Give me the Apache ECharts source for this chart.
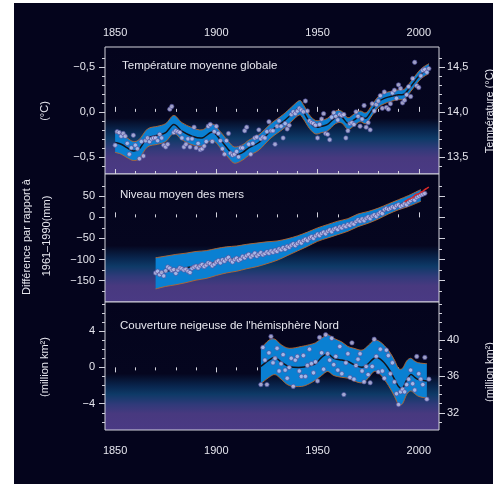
<!DOCTYPE html>
<html><head><meta charset="utf-8">
<script src="https://cdn.jsdelivr.net/npm/echarts@6/dist/echarts.min.js"></script>
<style>html,body{margin:0;padding:0;background:#fff}#c{width:493px;height:484px}</style>
</head><body><div id="c"></div>
<script>
// ---------------- DATA ----------------
const xMajorTicks = [1850, 1900, 1950, 2000];
const xMinorTicks = [1860, 1870, 1880, 1890, 1910, 1920, 1930, 1940, 1960, 1970, 1980, 1990];

// Panel 1: global mean temperature anomaly (°C), annual 1850-2005
const tempStartYear = 1850;
const tempAnnual = [
 -0.37,-0.22,-0.23,-0.27,-0.24,-0.27,-0.35,-0.47,-0.40,-0.26,
 -0.37,-0.41,-0.52,-0.33,-0.49,-0.32,-0.29,-0.33,-0.30,-0.29,
 -0.29,-0.32,-0.25,-0.29,-0.37,-0.39,-0.36,0.03,0.06,-0.23,
 -0.21,-0.22,-0.23,-0.29,-0.39,-0.36,-0.30,-0.39,-0.30,-0.17,
 -0.40,-0.35,-0.42,-0.41,-0.38,-0.33,-0.16,-0.14,-0.33,-0.22,
 -0.16,-0.24,-0.32,-0.41,-0.47,-0.32,-0.24,-0.46,-0.48,-0.47,
 -0.44,-0.50,-0.40,-0.40,-0.21,-0.17,-0.36,-0.47,-0.35,-0.29,
 -0.28,-0.20,-0.30,-0.28,-0.29,-0.22,-0.11,-0.21,-0.21,-0.36,
 -0.16,-0.10,-0.16,-0.29,-0.13,-0.19,-0.15,-0.03,0.00,-0.02,
 0.01,0.04,0.02,0.00,0.12,0.01,-0.10,-0.12,-0.13,-0.15,
 -0.29,-0.14,-0.08,-0.02,-0.24,-0.25,-0.31,-0.06,-0.01,-0.05,
 -0.09,-0.03,-0.04,-0.03,-0.29,-0.21,-0.13,-0.12,-0.14,0.00,
 -0.05,-0.16,-0.08,0.07,-0.17,-0.12,-0.20,0.09,0.01,0.08,
 0.12,0.18,0.04,0.22,0.05,0.03,0.09,0.21,0.24,0.15,
 0.30,0.26,0.10,0.13,0.19,0.28,0.17,0.37,0.55,0.29,
 0.27,0.40,0.46,0.47,0.44,0.48
];
const tempSmoothYears = [1850,1853,1856,1859,1862,1866,1871,1875,1879,1883,1888,1893,1898,1902,1906,1909,1913,1916,1921,1927,1933,1937,1941,1943,1946,1949,1952,1955,1959,1962,1965,1968,1971,1974,1977,1980,1983,1986,1990,1993,1997,2001,2005];
const tempSmooth = [-0.34,-0.36,-0.40,-0.435,-0.41,-0.29,-0.26,-0.23,-0.14,-0.215,-0.27,-0.29,-0.225,-0.31,-0.42,-0.48,-0.45,-0.40,-0.34,-0.21,-0.11,-0.03,0.045,0.0,-0.11,-0.17,-0.16,-0.14,-0.06,-0.06,-0.13,-0.09,-0.05,-0.07,0.02,0.11,0.15,0.17,0.19,0.20,0.31,0.42,0.48];
const tempHalfWidth = [0.11,0.11,0.11,0.105,0.105,0.10,0.10,0.10,0.10,0.095,0.095,0.09,0.09,0.09,0.09,0.09,0.085,0.085,0.085,0.08,0.08,0.08,0.08,0.08,0.075,0.075,0.07,0.07,0.07,0.065,0.065,0.065,0.06,0.06,0.06,0.06,0.06,0.055,0.055,0.055,0.055,0.055,0.055];
const tempTickValues = [0.5, 0, -0.5];
const tempTickLabels = ['\u22120,5', '0,0', '\u22120,5'];
const tempAbsTickValues = [14.5, 14.0, 13.5];
const tempAbsTickLabels = ['14,5', '14,0', '13,5'];

// Panel 2: sea level (mm), annual 1870-2003
const seaStartYear = 1870;
const seaAnnual = [
 -132,-128,-136,-131,-139,-127,-118,-121,-126,-124,
 -133,-125,-120,-122,-125,-123,-128,-131,-121,-118,
 -116,-120,-115,-112,-117,-113,-108,-110,-115,-111,
 -106,-103,-108,-101,-104,-99,-95,-102,-106,-100,
 -97,-102,-99,-93,-96,-91,-88,-94,-90,-85,
 -92,-88,-84,-89,-86,-82,-85,-80,-83,-78,
 -81,-75,-77,-72,-76,-69,-71,-66,-63,-67,
 -62,-58,-61,-55,-52,-55,-49,-46,-50,-44,
 -40,-43,-38,-35,-39,-33,-30,-34,-28,-26,
 -29,-23,-25,-20,-22,-17,-19,-14,-16,-10,
 -6,-9,-4,-8,-2,1,-3,3,6,2,
 8,12,9,18,21,19,22,25,23,28,
 30,26,29,33,30,36,40,44,41,47,
 50,53,55,57
];
const seaSmoothYears = [1870,1875,1880,1885,1890,1895,1900,1905,1910,1915,1920,1925,1930,1935,1940,1945,1950,1955,1960,1965,1970,1975,1980,1985,1990,1995,2001];
const seaSmooth = [-133,-128,-124,-120,-115,-112,-106,-101,-98,-93,-89,-84,-79,-71,-62,-52,-41,-33,-25,-18,-7,0,9,20,30,39,52];
const seaHalfWidth = [37,36,36,35,34,33,32,31,30,29,28,26,23,20,18,17,16,16,16,15,15,14,13,12,12,13,14];
const satYears = [1993,1994,1995,1996,1997,1998,1999,2000,2001,2002,2003,2004,2005];
const satSea = [37,40,43,45,47,52,55,56,60,62,66,69,72];
const seaTickValues = [50, 0, -50, -100, -150];
const seaTickLabels = ['50', '0', '\u221250', '\u2212100', '\u2212150'];

// Panel 3: NH snow cover anomaly (million km²), annual 1922-2005
const snowStartYear = 1922;
const snowAnnual = [
 -1.9,2.2,0.8,-1.9,1.6,3.4,0.5,1.0,2.1,-0.4,
 0.4,1.4,-0.3,-1.2,0.0,1.0,-2.1,0.8,1.2,-0.4,
 -1.0,1.3,-1.0,0.2,2.0,0.4,-0.6,0.6,-1.5,3.3,
 1.6,-0.2,3.6,1.5,0.8,3.2,0.3,1.2,-0.3,2.3,
 -0.7,-3.0,0.5,1.5,-1.1,2.7,-1.3,0.2,0.9,1.5,
 -0.4,-1.6,0.1,-0.8,-1.7,0.1,3.1,1.2,-0.5,2.0,
 -0.4,-1.2,1.9,1.3,-0.7,0.5,-1.6,-2.9,-4.1,-2.7,
 -2.4,-2.7,-1.9,-1.3,-0.3,-1.8,-2.5,1.2,-0.7,-1.3,
 -1.9,1.1,-3.5,-1.3
];
const snowSmoothYears = [1922,1926,1929,1932,1936,1942,1946,1949,1952,1955,1958,1962,1965,1968,1972,1975,1978,1981,1985,1988,1990,1992,1994,1996,1998,2000,2004];
const snowSmooth = [0.1,0.8,1.1,0.6,0.1,0.0,0.2,0.4,1.1,1.5,1.0,0.8,0.65,0.3,0.0,0.4,1.0,0.9,-0.1,-1.3,-2.1,-2.3,-1.4,-0.8,-1.1,-1.35,-1.5];
const snowUpper = [2.1,3.0,3.1,2.5,2.1,2.3,2.5,2.7,3.2,3.6,3.2,2.8,2.3,2.1,1.9,2.4,3.0,2.8,1.9,0.8,-0.1,-0.1,0.7,1.0,0.7,0.5,0.4];
const snowLower = [-1.8,-1.1,-0.8,-1.3,-2.0,-2.1,-1.8,-1.4,-0.9,-0.45,-0.9,-1.1,-1.2,-1.5,-1.7,-1.2,-0.45,-0.8,-2.0,-3.2,-4.1,-4.0,-3.0,-2.6,-2.9,-3.2,-3.4];
const snowTickValues = [4, 0, -4];
const snowTickLabels = ['4', '0', '\u22124'];
const snowAbsTickValues = [40, 36, 32];
const snowAbsTickLabels = ['40', '36', '32'];

// ---------------- STYLE ----------------
const FONT = '"Liberation Sans", Arial, sans-serif';
const TXT = '#e6e6ee';
const LC = '#d2d2dc';
const BAND = '#0a80d2';
const EDGE = '#b8672e';
const DOT = '#c6c6ee';
const DOTB = '#4c4c98';
const CURVE = '#14141c';

const panelGrad = {type:'linear', x:0, y:0, x2:0, y2:1, colorStops:[
  {offset:0, color:'#04041d'}, {offset:0.56, color:'#05061f'},
  {offset:0.66, color:'#092750'}, {offset:0.72, color:'#0e3a67'},
  {offset:0.80, color:'#313a7a'}, {offset:0.87, color:'#48397f'},
  {offset:1, color:'#4a3a84'}]};

const grids = [
  {left:105, top:47, width:334, height:127},
  {left:105, top:174, width:334, height:128},
  {left:105, top:302, width:334, height:128}
].map(g => Object.assign(g, {show:true, borderColor:LC, borderWidth:1, backgroundColor:panelGrad, containLabel:false}));

const xAxes = [];
function addX(grid, pos, ticks, len, inside, labelVals, margin) {
  xAxes.push({type:'value', gridIndex:grid, position:pos, min:1845, max:2010,
    axisLine:{show:false}, splitLine:{show:false},
    axisTick:{show:true, customValues:ticks, length:len, inside:inside, lineStyle:{color:LC, width:1}},
    axisLabel: labelVals ? {show:true, customValues:labelVals, margin:margin, color:TXT, fontSize:11, fontFamily:FONT, formatter:v=>String(v)} : {show:false}
  });
  return xAxes.length - 1;
}
const yAxes = [];
function addY(grid, pos, min, max, ticks, len, labelVals, labelTexts, margin) {
  yAxes.push({type:'value', gridIndex:grid, position:pos, min:min, max:max,
    axisLine:{show:false}, splitLine:{show:false},
    axisTick:{show:true, customValues:ticks, length:len, inside:false, lineStyle:{color:LC, width:1}},
    axisLabel: labelVals ? {show:true, customValues:labelVals, margin:margin, color:TXT, fontSize:11, fontFamily:FONT,
      formatter:v=>{ for (let i=0;i<labelVals.length;i++) if (Math.abs(labelVals[i]-v)<1e-6) return labelTexts[i]; return ''; }} : {show:false}
  });
  return yAxes.length - 1;
}

const x0 = addX(0,'top',xMajorTicks,5,false,xMajorTicks,9);
addX(0,'top',xMinorTicks,3,false);
addX(0,'bottom',xMajorTicks,5,true);
addX(0,'bottom',xMinorTicks,3,true);
const x1 = addX(1,'bottom',xMajorTicks,5,true);
addX(1,'bottom',xMinorTicks,3,true);
const x2 = addX(2,'bottom',xMajorTicks,5,false,xMajorTicks,15);
addX(2,'bottom',xMinorTicks,3,false);

const y0 = addY(0,'left',-0.69,0.72,tempTickValues,6,tempTickValues,tempTickLabels,10);
addY(0,'left',-0.69,0.72,[-0.6,-0.4,-0.3,-0.2,-0.1,0.1,0.2,0.3,0.4,0.6],3);
addY(0,'right',13.31,14.72,tempAbsTickValues,6,tempAbsTickValues,tempAbsTickLabels,8);
addY(0,'right',13.31,14.72,[13.4,13.6,13.7,13.8,13.9,14.1,14.2,14.3,14.4,14.6],3);
const y1 = addY(1,'left',-201,103,seaTickValues,6,seaTickValues,seaTickLabels,10);
addY(1,'left',-201,103,[-175,-125,-75,-25,25,75],3);
addY(1,'right',-201,103,seaTickValues,6);
addY(1,'right',-201,103,[-175,-125,-75,-25,25,75],3);
const y2 = addY(2,'left',-6.9,7.2,snowTickValues,6,snowTickValues,snowTickLabels,10);
addY(2,'left',-6.9,7.2,[-6,-5,-3,-2,-1,1,2,3,5,6,7],3);
addY(2,'right',30.1,44.2,snowAbsTickValues,6,snowAbsTickValues,snowAbsTickLabels,8);
addY(2,'right',30.1,44.2,[31,33,34,35,37,38,39,41,42,43,44],3);

// Catmull-Rom style curve segments through pixel points (from api.coord)
function curveSegs(p) {
  let d = '';
  for (let i = 0; i < p.length - 1; i++) {
    const a = p[i-1] || p[i], b = p[i], c = p[i+1], e = p[i+2] || p[i+1];
    const c1 = [b[0] + (c[0]-a[0])/6, b[1] + (c[1]-a[1])/6];
    const c2 = [c[0] - (e[0]-b[0])/6, c[1] - (e[1]-b[1])/6];
    d += 'C' + c1[0].toFixed(2) + ',' + c1[1].toFixed(2) + ' ' + c2[0].toFixed(2) + ',' + c2[1].toFixed(2) + ' ' + c[0].toFixed(2) + ',' + c[1].toFixed(2);
  }
  return d;
}
function mv(p) { return 'M' + p[0].toFixed(2) + ',' + p[1].toFixed(2); }
function ln(p) { return 'L' + p[0].toFixed(2) + ',' + p[1].toFixed(2); }

// band + central curve drawn through the axis scales
function bandSeries(years, center, lower, upper, xi, yi) {
  return {type:'custom', xAxisIndex:xi, yAxisIndex:yi, data:[[years[0], center[0]]], z:2, silent:true, clip:true,
    renderItem:(params, api) => {
      const up = years.map((y,i)=>api.coord([y, upper[i]]));
      const lo = years.map((y,i)=>api.coord([y, lower[i]]));
      const ce = years.map((y,i)=>api.coord([y, center[i]]));
      const loRev = lo.slice().reverse();
      const fill = mv(up[0]) + curveSegs(up) + ln(loRev[0]) + curveSegs(loRev) + 'Z';
      return {type:'group', children:[
        {type:'path', shape:{pathData:fill}, style:{fill:BAND, stroke:null}},
        {type:'path', shape:{pathData:mv(up[0]) + curveSegs(up)}, style:{stroke:EDGE, fill:null, lineWidth:0.9}},
        {type:'path', shape:{pathData:mv(lo[0]) + curveSegs(lo)}, style:{stroke:EDGE, fill:null, lineWidth:0.9}},
        {type:'path', shape:{pathData:mv(ce[0]) + curveSegs(ce)}, style:{stroke:CURVE, fill:null, lineWidth:1.5}}
      ]};
    }};
}
function lineSeries(years, vals, xi, yi, color, width, z) {
  return {type:'line', xAxisIndex:xi, yAxisIndex:yi, data:years.map((y,i)=>[y, vals[i]]),
    smooth:0.4, showSymbol:false, symbol:'none', lineStyle:{color:color, width:width}, z:z, silent:true};
}
function dotSeries(start, vals, xi, yi) {
  return {type:'scatter', xAxisIndex:xi, yAxisIndex:yi, data:vals.map((v,i)=>[start+i, v]),
    symbol:'circle', symbolSize:4.4, itemStyle:{color:DOT, borderColor:DOTB, borderWidth:0.8}, z:5, silent:true};
}

const series = [
  bandSeries(tempSmoothYears, tempSmooth, tempSmooth.map((v,i)=>v-tempHalfWidth[i]), tempSmooth.map((v,i)=>v+tempHalfWidth[i]), x0, y0),
  dotSeries(tempStartYear, tempAnnual, x0, y0),
  bandSeries(seaSmoothYears, seaSmooth, seaSmooth.map((v,i)=>v-seaHalfWidth[i]), seaSmooth.map((v,i)=>v+seaHalfWidth[i]), x1, y1),
  dotSeries(seaStartYear, seaAnnual, x1, y1),
  lineSeries(satYears, satSea, x1, y1, '#d82828', 1.5, 6),
  bandSeries(snowSmoothYears, snowSmooth, snowLower, snowUpper, x2, y2),
  dotSeries(snowStartYear, snowAnnual, x2, y2)
];

function txt(x, y, s, rot, size, align) {
  return {type:'text', x:x, y:y, rotation:rot||0, z:100,
    style:{text:s, fill:TXT, font:(size||11)+'px '+FONT, textAlign:align||'center', textVerticalAlign:'middle'}};
}
const graphic = [
  {type:'rect', shape:{x:14, y:3, width:479, height:481}, style:{fill:'#04041c'}, z:-10, silent:true},
  txt(122, 66, 'Température moyenne globale', 0, 11.5, 'left'),
  txt(120, 195, 'Niveau moyen des mers', 0, 11.5, 'left'),
  txt(120, 326, "Couverture neigeuse de l'hémisphère Nord", 0, 11.5, 'left'),
  txt(45, 111, '(°C)', Math.PI/2, 11),
  txt(26.5, 237, 'Différence par rapport à', Math.PI/2, 11),
  txt(46.5, 236, '1961\u20131990(mm)', Math.PI/2, 11),
  txt(45, 367, '(million km²)', Math.PI/2, 11),
  txt(490, 111, 'Température (°C)', Math.PI/2, 11),
  txt(490, 372, '(million km²)', Math.PI/2, 11)
];

const chart = echarts.init(document.getElementById('c'), null, {renderer:'canvas'});
chart.setOption({
  backgroundColor:'#ffffff', animation:false,
  grid:grids, xAxis:xAxes, yAxis:yAxes, series:series, graphic:graphic
});
</script></body></html>
